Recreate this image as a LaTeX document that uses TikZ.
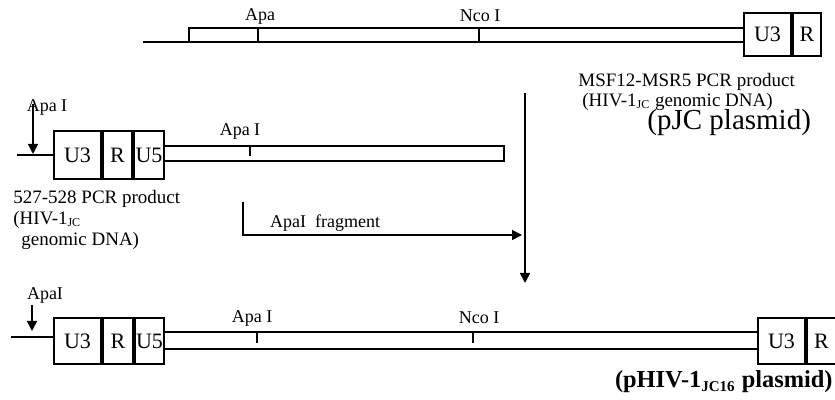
\documentclass[tikz,border=0pt]{standalone}
\usepackage{fontspec}
\setmainfont{Liberation Serif}
\usetikzlibrary{arrows.meta}

\tikzset{
  dna/.style={line width=1pt},
  seg/.style={draw, line width=1pt, inner sep=0pt, font=\fontsize{11}{11}\selectfont},
  site/.style={font=\fontsize{9}{10}\selectfont},
  cut/.style={-{Triangle[length=5pt,width=5pt]}, line width=0.8pt},
  caption/.style={font=\fontsize{9.5}{10.5}\selectfont, align=left, inner sep=0pt},
}

\begin{document}
\begin{tikzpicture}[x=0.5pt, y=-0.5pt]
  \useasboundingbox (0,0) rectangle (835,400);

  % pJC plasmid insert (top)
  \node[seg, minimum width=23.5pt, minimum height=21.5pt, anchor=north west] (jcU3) at (743,12) {U3};
  \node[seg, minimum width=14pt, minimum height=21.5pt, anchor=west] (jcR) at (jcU3.east) {R};
  \coordinate (jcStart) at (143,42);
  \coordinate (jcBend) at (189,42);
  \draw[dna] (jcStart) -- (jcU3.west |- jcStart);
  \draw[dna] (jcBend) |- (jcU3.west |- 0,28);
  \draw[dna] (258,29) -- (258,42);
  \draw[dna] (479,29) -- (479,42);
  \node[site] (jcApa) at (260,16) {Apa};
  \node[site] (jcNco) at (480,16) {Nco I};
  \node[caption, font=\fontsize{9.5}{8}\selectfont, anchor=west] (jcText) at (578,92)
    {MSF12-MSR5 PCR product\\\hspace{2pt}(HIV-1\textsubscript{\fontsize{6}{6}\selectfont JC} genomic DNA)};
  \node[font=\fontsize{14.5}{15}\selectfont, inner sep=0pt, anchor=west] (jcName) at (647,123) {(pJC plasmid)};

  % 527-528 PCR product (middle)
  \node[seg, minimum width=23.5pt, minimum height=24pt, anchor=north west] (pcU3) at (53,130) {U3};
  \node[seg, minimum width=14.5pt, minimum height=24pt, anchor=west] (pcR) at (pcU3.east) {R};
  \node[seg, minimum width=15pt, minimum height=24pt, anchor=west] (pcU5) at (pcR.east) {U5};
  \coordinate (pcStart) at (17,155);
  \draw[dna] (pcStart) -- (pcU3.west |- pcStart);
  \draw[dna] (pcU5.east |- 0,146) -- (504,146) -- (504,161) -- (pcU5.east |- 0,161);
  \draw[dna] (250,146) -- (250,156);
  \node[site] (pcApa) at (240,131) {Apa I};
  \node[site] (pcCutLabel) at (47,107) {Apa I};
  \coordinate (pcCutTop) at (33,104);
  \coordinate (pcCutTip) at (33,154);
  \draw[cut] (pcCutTop) -- (pcCutTip);
  \node[caption, anchor=north west] (pcText) at (13,190)
    {527-528 PCR product\\(HIV-1\textsubscript{\fontsize{6}{6}\selectfont JC}\\\hspace{4pt}genomic DNA)};

  % ligation arrows
  \coordinate (mainTop) at (525,93);
  \coordinate (mainTip) at (525,283);
  \draw[cut] (mainTop) -- (mainTip);
  \coordinate (fragStart) at (243,202);
  \coordinate (fragTip) at (522,235);
  \draw[cut] (fragStart) |- (fragTip);
  \node[site, anchor=west] (fragLabel) at (263,223) {ApaI\ \ fragment};

  % pHIV-1 JC16 plasmid (bottom)
  \node[seg, minimum width=23.5pt, minimum height=23pt, anchor=north west] (hvU3) at (53,317) {U3};
  \node[seg, minimum width=15pt, minimum height=23pt, anchor=west] (hvR) at (hvU3.east) {R};
  \node[seg, minimum width=14.5pt, minimum height=23pt, anchor=west] (hvU5) at (hvR.east) {U5};
  \node[seg, minimum width=23.5pt, minimum height=23pt, anchor=north west] (hvU3b) at (757,317) {U3};
  \node[seg, minimum width=14.5pt, minimum height=23pt, anchor=west] (hvRb) at (hvU3b.east) {R};
  \coordinate (hvStart) at (11,337);
  \draw[dna] (hvStart) -- (hvU3.west |- hvStart);
  \draw[dna] (hvU5.east |- 0,332) -- (hvU3b.west |- 0,332);
  \draw[dna] (hvU5.east |- 0,349) -- (hvU3b.west |- 0,349);
  \draw[dna] (257,332) -- (257,343);
  \draw[dna] (473,332) -- (473,343);
  \node[site] (hvApa) at (252,318) {Apa I};
  \node[site] (hvNco) at (479,318) {Nco I};
  \node[site] (hvCutLabel) at (45,295) {ApaI};
  \coordinate (hvCutTop) at (32,305);
  \coordinate (hvCutTip) at (32,331);
  \draw[cut] (hvCutTop) -- (hvCutTip);
  \node[font=\bfseries\fontsize{12.2}{13}\selectfont, inner sep=0pt, anchor=east] (hvName) at (833,382)
    {(pHIV-1\textsubscript{\fontsize{7.5}{7.5}\selectfont JC16} plasmid)};
\end{tikzpicture}
\end{document}
